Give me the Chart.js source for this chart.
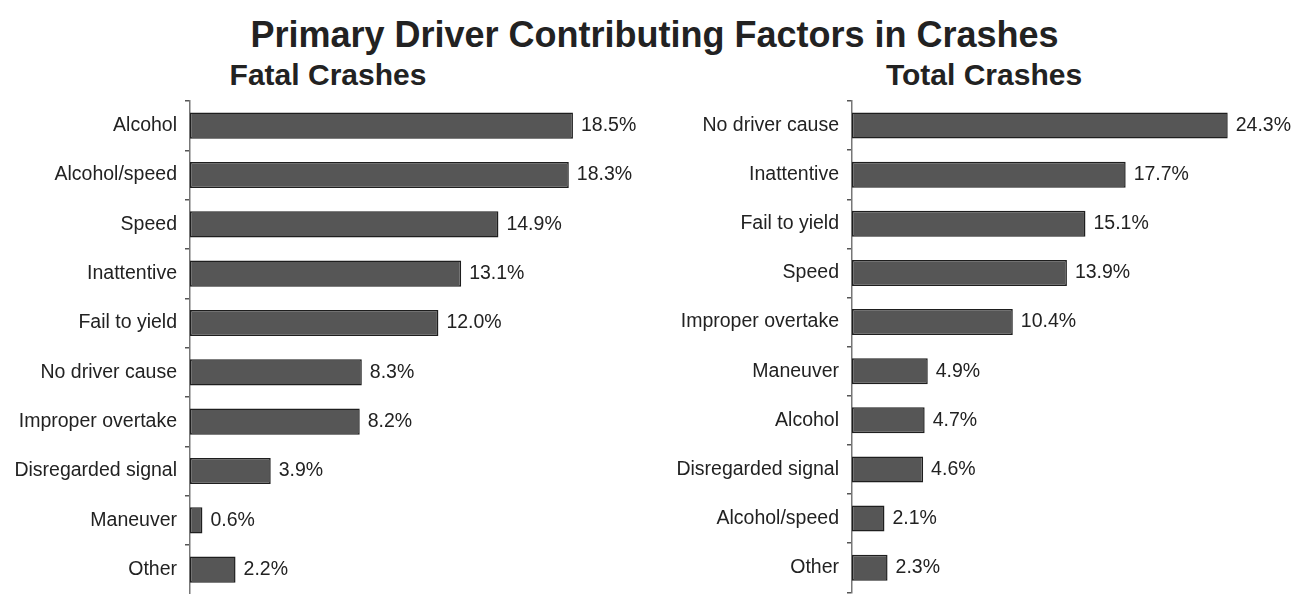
<!DOCTYPE html>
<html>
<head>
<meta charset="utf-8">
<script src="https://cdn.jsdelivr.net/npm/chart.js@4.4.0/dist/chart.umd.min.js"></script>
<style>
  html, body { margin: 0; padding: 0; background: #fff; overflow: hidden; }
  body { width: 1309px; height: 594px; position: relative; font-family: "Liberation Sans", Arial, sans-serif; color: #222; }
  .title { position: absolute; left: 0; width: 1309px; top: 14px; text-align: center; font-size: 36px; font-weight: bold; }
  .sub { position: absolute; top: 58px; font-size: 30px; font-weight: bold; text-align: center; width: 400px; }
  #fatalBox { position: absolute; left: 0; top: 0; width: 640px; height: 614px; }
  #totalBox { position: absolute; left: 640px; top: 0; width: 669px; height: 612px; }
</style>
</head>
<body>
<div class="title">Primary Driver Contributing Factors in Crashes</div>
<div class="sub" style="left:128px;">Fatal Crashes</div>
<div class="sub" style="left:784px;">Total Crashes</div>
<div id="fatalBox"><canvas id="fatalChart"></canvas></div>
<div id="totalBox"><canvas id="totalChart"></canvas></div>
<script>
// Données (en %)
var fatalLabels = ['Alcohol', 'Alcohol/speed', 'Speed', 'Inattentive', 'Fail to yield',
    'No driver cause', 'Improper overtake', 'Disregarded signal', 'Maneuver', 'Other'];
var fatalValues = [18.5, 18.3, 14.9, 13.1, 12.0, 8.3, 8.2, 3.9, 0.6, 2.2];

var totalLabels = ['No driver cause', 'Inattentive', 'Fail to yield', 'Speed', 'Improper overtake',
    'Maneuver', 'Alcohol', 'Disregarded signal', 'Alcohol/speed', 'Other'];
var totalValues = [24.3, 17.7, 15.1, 13.9, 10.4, 4.9, 4.7, 4.6, 2.1, 2.3];

var labelFont = { family: '"Liberation Sans", Arial, sans-serif', size: 19.5 };

// Étiquettes de valeur à droite des barres
var valueLabels = {
    id: 'valueLabels',
    afterDatasetsDraw: function(chart) {
        var ctx = chart.ctx;
        var meta = chart.getDatasetMeta(0);
        ctx.save();
        ctx.fillStyle = '#222';
        ctx.font = labelFont.size + 'px ' + labelFont.family;
        ctx.textBaseline = 'middle';
        ctx.textAlign = 'left';
        meta.data.forEach(function(bar, i) {
            var v = chart.data.datasets[0].data[i];
            ctx.fillText(v.toFixed(1) + '%', bar.x + 8, bar.y);
        });
        ctx.restore();
    }
};

function makeChart(id, labels, values, axisWidth, maxX, rightPad) {
    var ctx = document.getElementById(id).getContext('2d');
    return new Chart(ctx, {
        type: 'bar',
        data: {
            labels: labels,
            datasets: [{
                data: values,
                backgroundColor: '#565656',
                borderColor: '#1e1e1e',
                borderWidth: 1.5,
                borderSkipped: false,
                categoryPercentage: 1,
                barPercentage: 0.53
            }]
        },
        options: {
            indexAxis: 'y',
            responsive: true,
            maintainAspectRatio: false,
            animation: false,
            layout: { padding: { top: 101, bottom: 5, right: rightPad, left: 0 } },
            plugins: { legend: { display: false }, tooltip: { enabled: false } },
            scales: {
                x: { display: false, min: 0, max: maxX },
                y: {
                    afterFit: function(scale) { scale.width = axisWidth; },
                    border: { display: true, color: '#777', width: 1.5 },
                    grid: { display: true, offset: true, drawOnChartArea: false, drawTicks: true,
                            tickLength: 5, color: '#555', lineWidth: 1.5 },
                    ticks: { color: '#222', font: labelFont, padding: 8 }
                }
            }
        },
        plugins: [valueLabels]
    });
}

makeChart('fatalChart', fatalLabels, fatalValues, 190, 20, 36);
makeChart('totalChart', totalLabels, totalValues, 212, 26, 55);
</script>
</body>
</html>
